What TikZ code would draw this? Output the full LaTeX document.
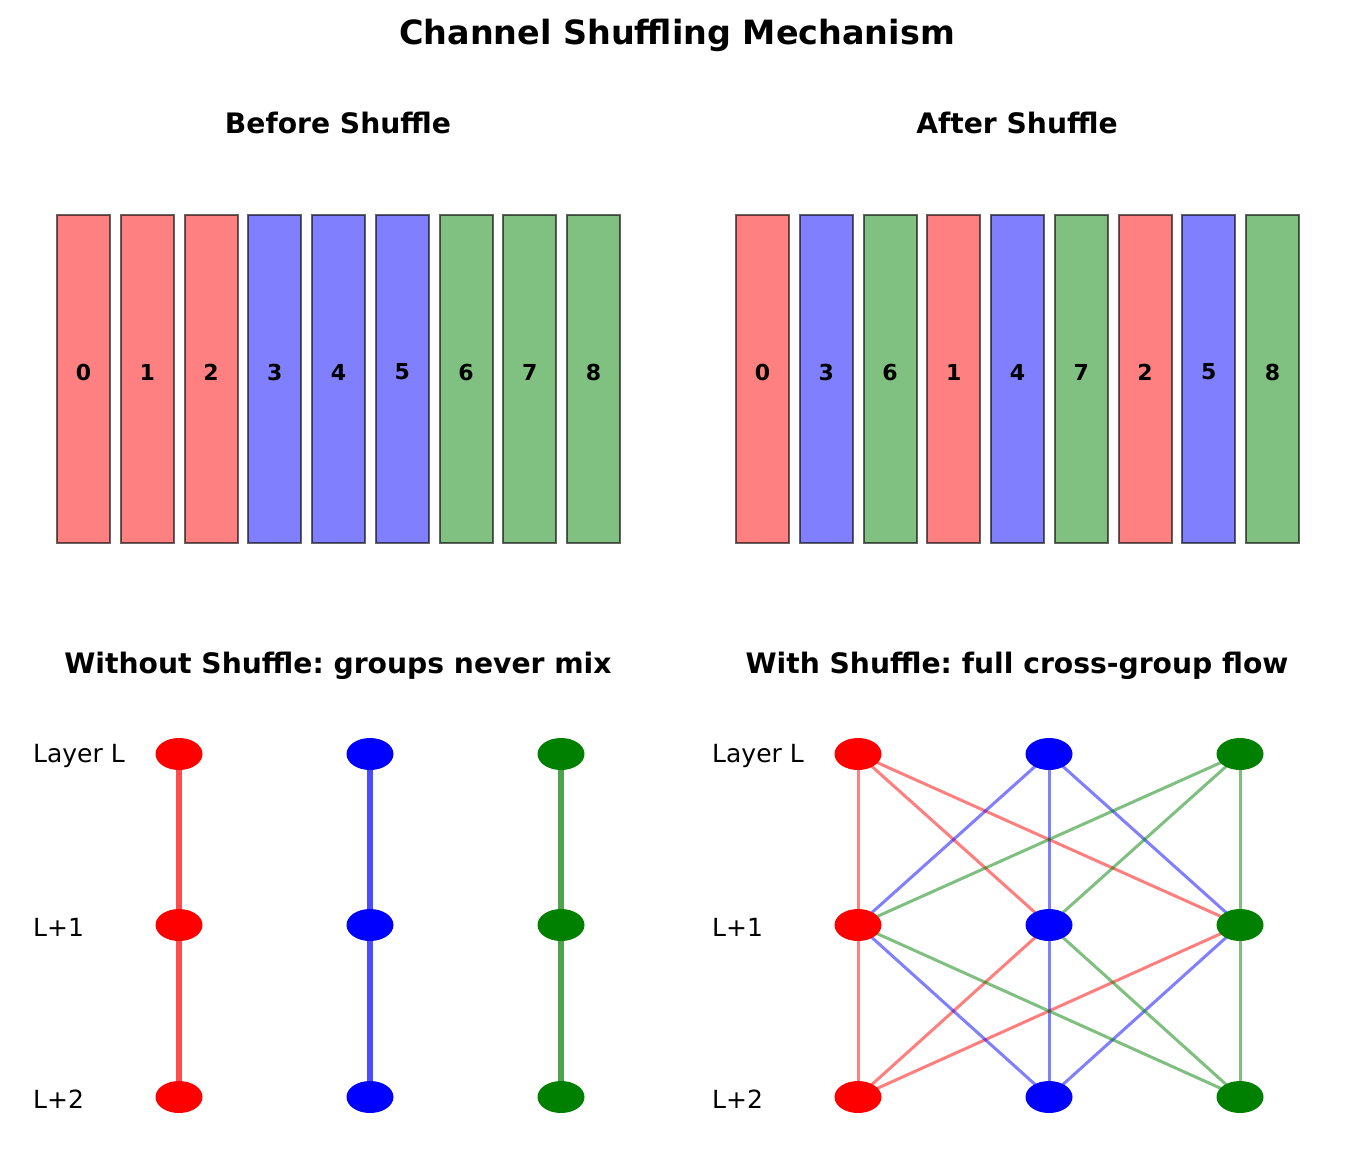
\documentclass[tikz,border=0pt]{standalone}
\usepackage{fontspec}
\setmainfont{DejaVu Sans}
\usetikzlibrary{backgrounds,shapes.geometric}
\definecolor{cR}{RGB}{255,0,0}
\definecolor{cB}{RGB}{0,0,255}
\definecolor{cG}{RGB}{0,128,0}
\definecolor{fR}{RGB}{255,128,128}
\definecolor{fB}{RGB}{128,128,255}
\definecolor{fG}{RGB}{128,192,128}
\frenchspacing
\tikzset{
  bar/.style={draw=black, draw opacity=0.6, line width=2pt, minimum width=53pt, minimum height=328pt, inner sep=0pt},
  num/.style={font=\fontsize{22}{26}\selectfont\bfseries},
  ttl/.style={font=\fontsize{33.4}{40}\selectfont\bfseries},
  sub/.style={font=\fontsize{28.2}{33}\selectfont\bfseries},
  lbl/.style={font=\fontsize{25}{30}\selectfont, anchor=west, inner sep=0pt},
  neuron/.style={ellipse, minimum width=47pt, minimum height=32pt, inner sep=0pt},
  thick edge/.style={line width=6pt, opacity=0.7},
  thin edge/.style={line width=3pt, opacity=0.5},
}
\begin{document}
\begin{tikzpicture}[x=1pt,y=-1pt]
\useasboundingbox (0,0) rectangle (1355,1173);
\node[ttl] (title) at (677,35) {Channel Shuffling Mechanism};
\node[sub] (tb) at (338,123) {Before Shuffle};
\node[sub] (ta) at (1017,123) {After Shuffle};
\node[sub] (tw) at (338,666) {Without Shuffle: groups never mix};
\node[sub] (tf) at (1017,666) {With Shuffle: full cross-group flow};
% before bars
\foreach \i/\c in {0/fR,1/fR,2/fR,3/fB,4/fB,5/fB,6/fG,7/fG,8/fG}{
  \node[bar, fill=\c] (b\i) at ({83.5+63.75*\i},379) {};
  \node[num] (bt\i) at ({83.5+63.75*\i},372) {\i};
}
% after bars
\foreach \k/\i/\c in {0/0/fR,1/3/fB,2/6/fG,3/1/fR,4/4/fB,5/7/fG,6/2/fR,7/5/fB,8/8/fG}{
  \node[bar, fill=\c] (a\k) at ({762.5+63.75*\k},379) {};
  \node[num] (at\k) at ({762.5+63.75*\k},372) {\i};
}
% row labels
\foreach \p/\x in {l/33, r/712}{
  \node[lbl] (\p lab0) at (\x,756) {Layer L};
  \node[lbl] (\p lab1) at (\x,927) {L+1};
  \node[lbl] (\p lab2) at (\x,1099) {L+2};
}
% neurons
\foreach \r/\y in {0/754,1/925,2/1097}{
  \foreach \j/\c in {0/cR,1/cB,2/cG}{
    \node[neuron, fill=\c] (n\r\j) at ({179+191*\j},\y) {};
    \node[neuron, fill=\c] (m\r\j) at ({858+191*\j},\y) {};
  }
}
\begin{scope}[on background layer]
  \fill[white] (0,0) rectangle (1355,1173);
  \foreach \j/\c in {0/cR,1/cB,2/cG}{
    \draw[thick edge, draw=\c] (n0\j.center) -- (n1\j.center);
    \draw[thick edge, draw=\c] (n1\j.center) -- (n2\j.center);
  }
  \foreach \j/\c in {0/cR,1/cB,2/cG}{
    \foreach \k in {0,1,2}{
      \draw[thin edge, draw=\c] (m0\j.center) -- (m1\k.center);
      \draw[thin edge, draw=\c] (m1\k.center) -- (m2\j.center);
    }
  }
\end{scope}
\end{tikzpicture}
\end{document}
